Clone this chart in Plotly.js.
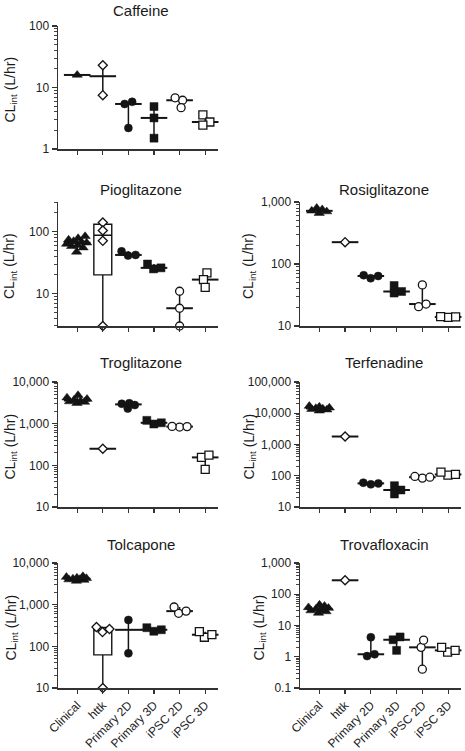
<!DOCTYPE html>
<html><head><meta charset="utf-8">
<script src="https://cdn.plot.ly/plotly-3.0.1.min.js"></script>
<style>html,body{margin:0;padding:0;background:#fff;} #chart{width:465px;height:751px;}</style>
</head><body><div id="chart"></div>
<script>
// ---------- DATA ----------
const categories = ['Clinical', 'httk', 'Primary 2D', 'Primary 3D', 'iPSC 2D', 'iPSC 3D'];
const drugs = ['Caffeine', 'Pioglitazone', 'Rosiglitazone', 'Troglitazone', 'Terfenadine', 'Tolcapone', 'Trovafloxacin'];

// each array: [Clinical, httk, Primary 2D, Primary 3D, iPSC 2D, iPSC 3D]  (CLint, L/hr)
const caffeine = [[16], [23, 7.5], [5.4, 5.85, 2.2], [4.9, 3.2, 1.5], [6.2, 6.8, 4.7], [3.6, 2.75, 2.45]];
const pioglitazone = [[47, 55, 58, 60, 63, 66, 68, 70, 74, 78, 84], [140, 104, 71, 3], [41, 48, 42], [25, 30, 26], [10.9, 5.8, 3.0], [21.5, 16.8, 12.6]];
const rosiglitazone = [[660, 700, 720, 760, 800], [225], [59, 64, 66], [34, 36, 45], [20.5, 22.6, 46], [13.8, 14.0, 14.2]];
const troglitazone = [[3100, 3300, 3400, 3500, 3700, 3900, 4200, 4800], [250], [2300, 2800, 3000, 3100], [980, 1050, 1200], [830, 850, 860], [80, 155, 175]];
const terfenadine = [[12000, 13000, 13500, 14000, 14500, 15000, 16000, 17000], [1800], [53, 57, 60], [26, 35, 48], [84, 95, 90], [105, 130, 110]];
const tolcapone = [[3700, 3900, 4000, 4100, 4200, 4300, 4400, 4600, 4800], [10, 220, 260, 290], [430, 68], [230, 250, 280], [620, 700, 880], [165, 190, 225]];
const trovafloxacin = [[25, 28, 30, 32, 34, 36, 38, 42, 46], [280], [1.05, 1.2, 4.2], [1.6, 3.5, 4.3], [0.4, 2.0, 3.4], [1.4, 1.6, 2.0]];

const yRanges = [[1, 100], [3, 300], [10, 1000], [10, 10000], [10, 100000], [10, 10000], [0.1, 1000]];
const yTicks = [[1, 10, 100], [10, 100], [10, 100, 1000], [10, 100, 1000, 10000], [10, 100, 1000, 10000, 100000], [10, 100, 1000, 10000], [0.1, 1, 10, 100, 1000]];
const boxCategory = 'httk'; // drawn as box & whiskers when it has >= 4 values

// ---------- LAYOUT GEOMETRY (px) ----------
const W = 465, H = 751;
const panelData = [caffeine, pioglitazone, rosiglitazone, troglitazone, terfenadine, tolcapone, trovafloxacin];
const panelPos = [[0, 0], [0, 1], [1, 1], [0, 2], [1, 2], [0, 3], [1, 3]];
const colX = [[58, 218], [300, 461]];
const rowY = [[26, 149], [202, 326], [382, 507], [563, 688]];
const titleY = [10, 189, 363, 544];
const titleX = [141, 384];
const ylabX = [[10, 10, 10, 11], [249, 249, 249, 259]];
const xRange = [-0.75, 5.5];

const symbols = ['triangle-up', 'diamond', 'circle', 'square', 'circle', 'square'];
const filled = [true, false, true, true, false, false];
const msize = [9, 7, 8, 8, 8, 8];
const INK = '#141414';

function median(a) {
  const s = a.slice().sort((x, y) => x - y), n = s.length;
  return n % 2 ? s[(n - 1) / 2] : (s[n / 2 - 1] + s[n / 2]) / 2;
}
function quart(a, p) { // (n+1)p method
  const s = a.slice().sort((x, y) => x - y), n = s.length;
  const pos = (n + 1) * p;
  if (pos <= 1) return s[0];
  if (pos >= n) return s[n - 1];
  const k = Math.floor(pos), f = pos - k;
  return s[k - 1] + f * (s[k] - s[k - 1]);
}
function swarm(vals, pxPerLog, pxPerCat) {
  const D = 7.5, L = 10;
  const n = vals.length;
  const ypx = vals.map(v => Math.log10(v) * pxPerLog);
  const order = vals.map((v, i) => i).sort((a, b) => vals[a] - vals[b]);
  const xs = new Array(n).fill(0);
  const placed = [];
  const cands = [];
  for (let d = 0; d <= L; d += 0.5) { cands.push(d); if (d > 0) cands.push(-d); }
  order.forEach(i => {
    let best = 0, bestScore = -1;
    for (const c of cands) {
      let mind = Infinity;
      for (const j of placed) mind = Math.min(mind, Math.hypot(c - xs[j], ypx[i] - ypx[j]));
      if (mind >= D) { best = c; break; }
      if (mind > bestScore) { bestScore = mind; best = c; }
    }
    xs[i] = best; placed.push(i);
  });
  // center each vertical cluster
  let cluster = [order[0]];
  const flush = () => {
    const m = cluster.reduce((s, i) => s + xs[i], 0) / cluster.length;
    cluster.forEach(i => xs[i] -= m);
  };
  for (let k = 1; k < n; k++) {
    const i = order[k], prev = order[k - 1];
    if (ypx[i] - ypx[prev] < D) cluster.push(i);
    else { flush(); cluster = [i]; }
  }
  flush();
  return xs.map(x => x / pxPerCat);
}
function minorVals(r) {
  const out = [];
  for (let e = Math.floor(Math.log10(r[0])) ; e <= Math.ceil(Math.log10(r[1])); e++) {
    for (let m = 2; m <= 9; m++) {
      const v = m * Math.pow(10, e);
      if (v >= r[0] * 0.999 && v <= r[1] * 1.001) out.push(v);
    }
  }
  return out;
}
function fmt(v) { return v.toLocaleString('en-US'); }

const traces = [];
const layout = {
  width: W, height: H,
  margin: { l: 0, r: 0, t: 0, b: 0 },
  paper_bgcolor: '#ffffff', plot_bgcolor: 'rgba(0,0,0,0)',
  showlegend: false,
  font: { family: 'Liberation Sans, Arial, sans-serif', color: '#222', size: 12 },
  annotations: []
};

panelData.forEach((data, p) => {
  const [col, row] = panelPos[p];
  const s = p === 0 ? '' : String(p + 1);
  const [x0, x1] = colX[col], [yt, yb] = rowY[row];
  const r = yRanges[p];
  const lr = [Math.log10(r[0]) - 1e-4, Math.log10(r[1]) + 1e-4];
  const pxPerLog = (yb - yt) / (lr[1] - lr[0]);
  const pxPerCat = (x1 - x0) / (xRange[1] - xRange[0]);
  const bottomRow = row === 3;

  layout['xaxis' + s] = {
    domain: [x0 / W, x1 / W], anchor: 'y' + s, range: xRange,
    tickmode: 'array', tickvals: categories.map((c, i) => i), ticktext: categories,
    showticklabels: bottomRow, tickangle: -45, tickfont: { size: 12, color: '#222' },
    ticks: 'outside', ticklen: 4, tickwidth: 1.2, tickcolor: '#333',
    showline: true, linecolor: '#333', linewidth: 1.5,
    showgrid: false, zeroline: false, fixedrange: true
  };
  layout['yaxis' + s] = {
    domain: [1 - yb / H, 1 - yt / H], anchor: 'x' + s, type: 'log',
    range: lr,
    tickmode: 'array', tickvals: yTicks[p], ticktext: yTicks[p].map(fmt),
    tickfont: { size: 12, color: '#222' },
    ticks: 'outside', ticklen: 5, tickwidth: 1.2, tickcolor: '#333',
    minor: { tickmode: 'array', tickvals: minorVals(r), ticks: 'outside', ticklen: 2.5, tickwidth: 1, tickcolor: '#444', showgrid: false },
    showline: true, linecolor: '#333', linewidth: 1.5,
    showgrid: false, zeroline: false, fixedrange: true
  };

  // summaries first (so markers sit on top)
  data.forEach((vals, c) => {
    const med = median(vals), mn = Math.min(...vals), mx = Math.max(...vals);
    if (categories[c] === boxCategory && vals.length >= 4) {
      traces.push({
        type: 'box', x: [c], q1: [quart(vals, 0.25)], median: [med], q3: [quart(vals, 0.75)],
        lowerfence: [mn], upperfence: [mx], width: 0.7, whiskerwidth: 0,
        fillcolor: '#ffffff', line: { color: INK, width: 1.4 }, boxpoints: false,
        xaxis: 'x' + s, yaxis: 'y' + s, hoverinfo: 'skip'
      });
    } else {
      traces.push({
        type: 'scatter', mode: 'markers', x: [c], y: [med], cliponaxis: false,
        marker: { symbol: 'line-ew', size: 19, color: INK, line: { width: 2, color: INK } },
        error_y: { type: 'data', symmetric: false, array: [mx - med], arrayminus: [med - mn], thickness: 1.5, width: 0, color: INK, visible: vals.length > 1 },
        xaxis: 'x' + s, yaxis: 'y' + s, hoverinfo: 'skip'
      });
    }
  });
  data.forEach((vals, c) => {
    const off = swarm(vals, pxPerLog, pxPerCat);
    traces.push({
      type: 'scatter', mode: 'markers', cliponaxis: false,
      x: off.map(o => c + o), y: vals,
      marker: {
        symbol: symbols[c], size: msize[c], color: filled[c] ? INK : '#ffffff',
        line: { color: INK, width: filled[c] ? 0.5 : 1.3 }
      },
      xaxis: 'x' + s, yaxis: 'y' + s, name: categories[c]
    });
  });

  layout.annotations.push({
    xref: 'paper', yref: 'paper', x: titleX[col] / W, y: 1 - titleY[row] / H,
    xanchor: 'center', yanchor: 'middle', showarrow: false,
    text: drugs[p], font: { size: 15, color: '#1a1a1a' }
  });
  layout.annotations.push({
    xref: 'paper', yref: 'paper', x: ylabX[col][row] / W, y: 1 - ((yt + yb) / 2 + 2) / H,
    xanchor: 'center', yanchor: 'middle', showarrow: false, textangle: -90,
    text: 'CL<sub>int</sub> (L/hr)', font: { size: 14, color: '#1a1a1a' }
  });
});

Plotly.newPlot('chart', traces, layout, { staticPlot: true, displayModeBar: false });
</script>
</body></html>
